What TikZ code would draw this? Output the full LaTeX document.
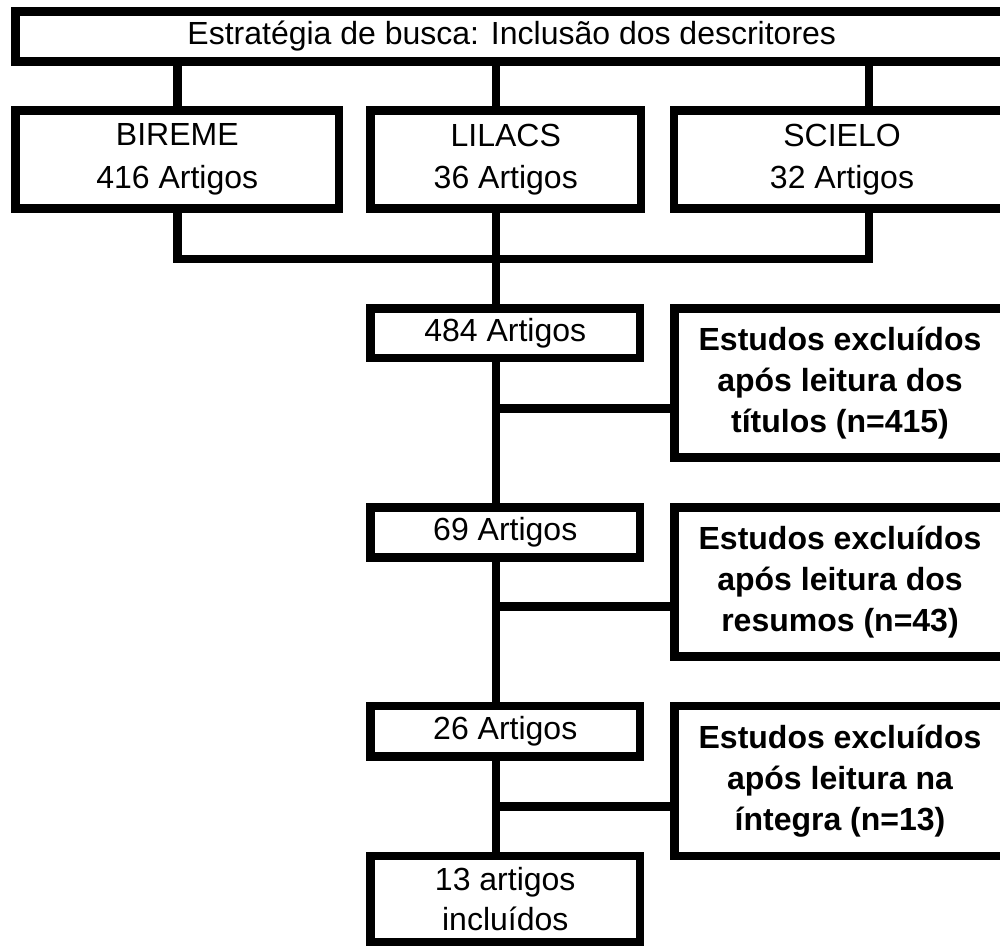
\documentclass[tikz,border=0pt]{standalone}
\usepackage{fontspec}
\setmainfont{Liberation Sans}
\begin{document}
\begin{tikzpicture}[x=1pt,y=-1pt,
  box/.style={draw=black, line width=8.5pt, inner sep=0pt, align=center,
    font=\fontsize{32}{42.5}\selectfont},
  exbox/.style={box, font=\fontsize{32}{41}\selectfont\bfseries},
  conn/.style={draw=black, line width=8.5pt}]
\useasboundingbox (0,0) rectangle (1000,947);
\clip (0,0) rectangle (1000,947);
% top box
\node[box, minimum width=992.5pt, minimum height=50pt] (top) at (511.75,36.5)
  {Estratégia de busca: Inclusão dos descritores};
% sources
\node[box, minimum width=323.5pt, minimum height=98pt] (bireme) at (177.25,159.5) {BIREME\\416 Artigos};
\node[box, minimum width=270.5pt, minimum height=98pt] (lilacs) at (505.75,159.5) {LILACS\\36 Artigos};
\node[box, minimum width=336pt, minimum height=98pt] (scielo) at (842,159.5) {SCIELO\\32 Artigos};
% steps
\node[box, minimum width=269.5pt, minimum height=49.5pt] (n484) at (505.25,333.25) {484 Artigos};
\node[box, minimum width=269.5pt, minimum height=50pt] (n69) at (505.25,532.5) {69 Artigos};
\node[box, minimum width=269.5pt, minimum height=50.5pt] (n26) at (505.25,731.25) {26 Artigos};
\node[box, minimum width=269.5pt, minimum height=86pt, font=\fontsize{32}{40}\selectfont] (final) at (505.25,899) {13 artigos\\incluídos};
% exclusion boxes
\node[exbox, minimum width=331pt, minimum height=149pt] (ex1) at (840,383) {Estudos excluídos\\após leitura dos\\títulos (n=415)};
\node[exbox, minimum width=331pt, minimum height=149pt] (ex2) at (840,582) {Estudos excluídos\\após leitura dos\\resumos (n=43)};
\node[exbox, minimum width=331pt, minimum height=150pt] (ex3) at (840,781) {Estudos excluídos\\após leitura na\\íntegra (n=13)};
% coordinates
\coordinate (spine) at (496,0);
\coordinate (merge) at (496,259);
\coordinate (b1) at (496,408.5);
\coordinate (b2) at (496,606.5);
\coordinate (b3) at (496,806.5);
% connectors top -> sources
\draw[conn] (top.south -| bireme.north) -- (bireme.north);
\draw[conn] (top.south -| spine) -- (lilacs.north -| spine);
\draw[conn] ([xshift=27pt]scielo.north |- top.south) -- ([xshift=27pt]scielo.north);
% sources -> merge
\draw[conn] (bireme.south) |- (merge);
\draw[conn] ([xshift=27pt]scielo.south) |- (merge);
\draw[conn] (lilacs.south -| spine) -- (n484.north -| spine);
% spine
\draw[conn] (n484.south -| spine) -- (n69.north -| spine);
\draw[conn] (n69.south -| spine) -- (n26.north -| spine);
\draw[conn] (n26.south -| spine) -- (final.north -| spine);
% branches
\draw[conn] (b1) -- (b1 -| ex1.west);
\draw[conn] (b2) -- (b2 -| ex2.west);
\draw[conn] (b3) -- (b3 -| ex3.west);
\end{tikzpicture}
\end{document}
